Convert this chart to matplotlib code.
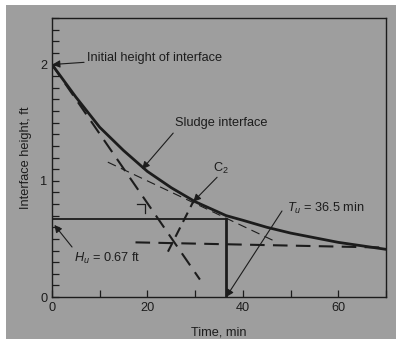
import numpy as np
import matplotlib.pyplot as plt
from matplotlib.patches import Rectangle

# Sludge interface settling curve
time_min = [0, 5, 10, 15, 20, 25, 30, 36.5, 40, 45, 50, 55, 60, 65, 70]
height_ft = [2.0, 1.72, 1.46, 1.26, 1.08, 0.94, 0.82, 0.70, 0.66, 0.60, 0.55, 0.51, 0.47, 0.44, 0.41]

# construction lines (endpoints)
steep_t, steep_h = [0, 31], [2.0, 0.15]
flat_t, flat_h = [17.5, 70], [0.47, 0.425]
tangent_t, tangent_h = [11.7, 47.2], [1.16, 0.47]
bisect_t, bisect_h = [24.3, 29.6], [0.39, 0.82]
Hu = 0.67
Tu = 36.5

plt.rcParams['font.family'] = ['Liberation Sans', 'DejaVu Sans']
plt.rcParams['mathtext.fontset'] = 'custom'
plt.rcParams['mathtext.rm'] = 'Liberation Sans'
plt.rcParams['mathtext.it'] = 'Liberation Sans:italic'
ink = '#1c1c1c'
paper = '#9e9e9e'

fig = plt.figure(figsize=(3.96, 3.39), dpi=100, facecolor='white')
fig.patches.append(Rectangle((6 / 396, 0), 1, 1 - 5 / 339, transform=fig.transFigure,
                             facecolor=paper, edgecolor='none', zorder=-10))
ax = fig.add_axes([52 / 396, 1 - 297 / 339, (386 - 52) / 396, (297 - 18) / 339])
ax.set_facecolor('none')

# curve
ax.plot(time_min, height_ft, color=ink, lw=2.0, solid_capstyle='round', zorder=3)

# dashed construction
ax.plot(steep_t, steep_h, color=ink, lw=1.5, dashes=(7, 4))
ax.plot(flat_t, flat_h, color=ink, lw=1.5, dashes=(7, 4))
ax.plot(bisect_t, bisect_h, color=ink, lw=1.5, dashes=(5, 3))
ax.plot(tangent_t, tangent_h, color=ink, lw=0.8, dashes=(8, 5))

# small right-angle mark on steep tangent
ax.plot([17.8, 19.5, 19.5], [0.80, 0.80, 0.72], color=ink, lw=0.9)

# Hu / Tu solid lines
ax.plot([0, Tu], [Hu, Hu], color=ink, lw=1.3)
ax.plot([Tu, Tu], [Hu, 0], color=ink, lw=2.0)

arrow = dict(arrowstyle='-|>', color=ink, lw=0.8, mutation_scale=11, shrinkA=0, shrinkB=0)
fs = 9.2
ax.annotate('Initial height of interface', xy=(0.1, 2.0), xytext=(7.3, 2.06),
            fontsize=fs, color=ink, va='center', arrowprops=arrow)
ax.annotate('Sludge interface', xy=(18.9, 1.10), xytext=(25.8, 1.50),
            fontsize=fs, color=ink, va='center')
ax.annotate('', xy=(18.9, 1.10), xytext=(25.4, 1.41), arrowprops=arrow)
ax.annotate('C$_2$', xy=(29.6, 0.82), xytext=(33.8, 1.11),
            fontsize=fs, color=ink, va='center')
ax.annotate('', xy=(29.6, 0.82), xytext=(34.6, 1.03), arrowprops=arrow)
ax.annotate('$T_u$ = 36.5 min', xy=(Tu, 0.0), xytext=(49.3, 0.76),
            fontsize=fs, color=ink, va='center')
ax.annotate('', xy=(Tu, 0.0), xytext=(48.2, 0.74), arrowprops=arrow)
ax.annotate('$H_u$ = 0.67 ft', xy=(0.5, 0.62), xytext=(4.6, 0.33),
            fontsize=fs, color=ink, va='center')
ax.annotate('', xy=(0.5, 0.62), xytext=(4.2, 0.43), arrowprops=arrow)

ax.set_xlim(0, 70)
ax.set_ylim(0, 2.4)
ax.set_xticks([0, 20, 40, 60])
ax.set_xticks(np.arange(0, 71, 10), minor=True)
ax.set_yticks([0, 1, 2])
ax.set_yticks(np.arange(0, 2.41, 0.1), minor=True)
ax.tick_params(which='both', direction='in', top=False, right=False,
               color=ink, labelcolor=ink, labelsize=fs, width=0.9)
ax.tick_params(which='major', length=5)
ax.tick_params(which='minor', length=5)
for s in ax.spines.values():
    s.set_color(ink)
    s.set_linewidth(1.0)

ax.set_xlabel('Time, min', fontsize=fs, color=ink, labelpad=9)
ax.set_ylabel('Interface height, ft', fontsize=fs, color=ink, labelpad=6)

fig.savefig('out.png', dpi=100, facecolor='white')
